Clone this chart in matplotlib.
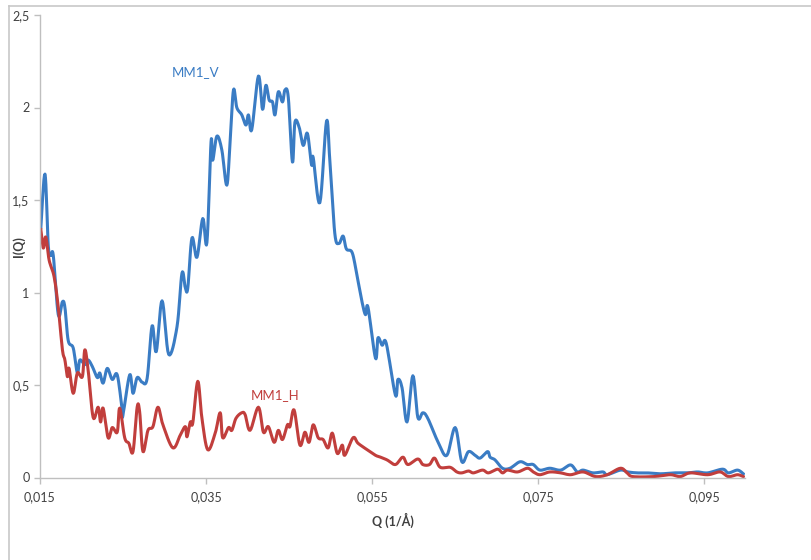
import numpy as np
import matplotlib
matplotlib.use("Agg")
import matplotlib.pyplot as plt
from matplotlib.lines import Line2D

# scattering intensity I(Q), vertical and horizontal sectors
q_v = [0.0151, 0.0156, 0.0160, 0.0163, 0.0166, 0.0172, 0.0177, 0.0180, 0.0184, 0.0190,
       0.0195, 0.0198, 0.0204, 0.0208, 0.0213, 0.0219, 0.0222, 0.0226, 0.0231, 0.0237,
       0.0243, 0.0249, 0.0250, 0.0258, 0.0262, 0.0267, 0.0273, 0.0279, 0.0285, 0.0290,
       0.0297, 0.0305, 0.0315, 0.0321, 0.0325, 0.0328, 0.0333, 0.0339, 0.0346, 0.0351,
       0.0356, 0.0358, 0.0363, 0.0369, 0.0375, 0.0379, 0.0383, 0.0387, 0.0393, 0.0398,
       0.0401, 0.0405, 0.0413, 0.0418, 0.0422, 0.0426, 0.0430, 0.0433, 0.0437, 0.0442,
       0.0445, 0.0449, 0.0454, 0.0457, 0.0462, 0.0467, 0.0472, 0.0477, 0.0479, 0.0487,
       0.0495, 0.0499, 0.0505, 0.0510, 0.0515, 0.0519, 0.0526, 0.0532, 0.0538, 0.0542,
       0.0545, 0.0554, 0.0557, 0.0562, 0.0567, 0.0578, 0.0581, 0.0586, 0.0592, 0.0599,
       0.0605, 0.0611, 0.0617, 0.0630, 0.0640, 0.0650, 0.0658, 0.0666, 0.0674, 0.0680,
       0.0689, 0.0692, 0.0698, 0.0707, 0.0716, 0.0728, 0.0737, 0.0744, 0.0752, 0.0764,
       0.0777, 0.0789, 0.0797, 0.0804, 0.0816, 0.0828, 0.0833, 0.0849, 0.0858, 0.0869,
       0.0881, 0.0897, 0.0913, 0.0930, 0.0942, 0.0954, 0.0972, 0.0979, 0.0990, 0.0997]
i_v = [1.35, 1.64, 1.25, 1.20, 1.20, 0.88, 0.95, 0.92, 0.74, 0.70,
       0.565, 0.635, 0.61, 0.635, 0.60, 0.54, 0.565, 0.51, 0.59, 0.53,
       0.555, 0.365, 0.34, 0.555, 0.455, 0.54, 0.515, 0.535, 0.82, 0.68,
       0.955, 0.665, 0.815, 1.105, 1.025, 1.025, 1.295, 1.19, 1.40, 1.27,
       1.815, 1.715, 1.845, 1.77, 1.58, 1.825, 2.095, 2.00, 1.96, 1.905,
       1.96, 1.88, 2.17, 1.99, 2.12, 2.04, 2.03, 1.96, 2.085, 2.03,
       2.095, 2.055, 1.705, 1.92, 1.895, 1.795, 1.86, 1.69, 1.73, 1.485,
       1.925, 1.715, 1.32, 1.265, 1.305, 1.235, 1.215, 1.085, 0.945, 0.88,
       0.92, 0.645, 0.755, 0.715, 0.725, 0.445, 0.53, 0.485, 0.30, 0.55,
       0.325, 0.35, 0.32, 0.185, 0.12, 0.27, 0.085, 0.14, 0.12, 0.105,
       0.14, 0.11, 0.095, 0.05, 0.05, 0.085, 0.07, 0.07, 0.04, 0.05,
       0.04, 0.068, 0.03, 0.04, 0.025, 0.03, 0.015, 0.04, 0.03, 0.025,
       0.025, 0.02, 0.025, 0.025, 0.03, 0.025, 0.045, 0.025, 0.04, 0.02]

q_h = [0.0151, 0.0154, 0.0157, 0.0161, 0.0167, 0.0172, 0.0177, 0.0180, 0.0183, 0.0185,
       0.0190, 0.0195, 0.0201, 0.0204, 0.0208, 0.0214, 0.0220, 0.0223, 0.0226, 0.0232,
       0.0237, 0.0243, 0.0246, 0.0252, 0.0257, 0.0262, 0.0267, 0.0270, 0.0274, 0.0280,
       0.0286, 0.0292, 0.0298, 0.0310, 0.0319, 0.0325, 0.0327, 0.0331, 0.0334, 0.0340,
       0.0345, 0.0352, 0.0361, 0.0367, 0.0370, 0.0377, 0.0381, 0.0386, 0.0393, 0.0397,
       0.0403, 0.0413, 0.0419, 0.0425, 0.0432, 0.0437, 0.0442, 0.0448, 0.0451, 0.0456,
       0.0463, 0.0469, 0.0474, 0.0479, 0.0485, 0.0491, 0.0497, 0.0502, 0.0508, 0.0514,
       0.0517, 0.0527, 0.0533, 0.0544, 0.0554, 0.0560, 0.0568, 0.0578, 0.0587, 0.0593,
       0.0605, 0.0611, 0.0619, 0.0625, 0.0632, 0.0644, 0.0652, 0.0658, 0.0666, 0.0672,
       0.0683, 0.0690, 0.0701, 0.0707, 0.0713, 0.0725, 0.0737, 0.0744, 0.0752, 0.0764,
       0.0777, 0.0789, 0.0804, 0.0819, 0.0833, 0.0849, 0.0857, 0.0864, 0.0889, 0.0909,
       0.0921, 0.0933, 0.0954, 0.0969, 0.0979, 0.0990, 0.0997]
i_h = [1.34, 1.24, 1.30, 1.175, 1.085, 0.92, 0.69, 0.635, 0.545, 0.59,
       0.455, 0.565, 0.545, 0.69, 0.58, 0.325, 0.38, 0.30, 0.375, 0.215,
       0.27, 0.245, 0.375, 0.215, 0.185, 0.14, 0.38, 0.355, 0.14, 0.255,
       0.275, 0.38, 0.285, 0.16, 0.23, 0.275, 0.22, 0.30, 0.295, 0.52,
       0.32, 0.15, 0.24, 0.35, 0.215, 0.27, 0.255, 0.32, 0.35, 0.34,
       0.255, 0.38, 0.245, 0.275, 0.19, 0.255, 0.205, 0.285, 0.275, 0.365,
       0.175, 0.245, 0.19, 0.285, 0.215, 0.205, 0.16, 0.24, 0.13, 0.175,
       0.12, 0.215, 0.185, 0.15, 0.12, 0.11, 0.095, 0.07, 0.11, 0.07,
       0.10, 0.07, 0.07, 0.105, 0.055, 0.055, 0.03, 0.025, 0.035, 0.025,
       0.04, 0.025, 0.045, 0.025, 0.04, 0.03, 0.05, 0.03, 0.015, 0.03,
       0.025, 0.015, 0.03, 0.005, 0.015, 0.05, 0.025, 0.005, 0.005, 0.015,
       0.005, 0.025, 0.015, 0.03, 0.005, 0.015, 0.005]

x_ticks = [0.015, 0.035, 0.055, 0.075, 0.095]
y_ticks = [0, 0.5, 1, 1.5, 2, 2.5]

blue = "#3A7CC4"
red = "#C13E3C"
grey = "#BFBFBF"


def smooth(x, y, n=8):
    # Catmull-Rom curve through the points, like a "smoothed line" chart
    x = np.asarray(x, float)
    y = np.asarray(y, float)
    px = np.concatenate([[x[0]], x, [x[-1]]])
    py = np.concatenate([[y[0]], y, [y[-1]]])
    t = np.linspace(0, 1, n, endpoint=False)
    xs, ys = [], []
    for k in range(1, len(px) - 2):
        for p, out in ((px, xs), (py, ys)):
            p0, p1, p2, p3 = p[k - 1], p[k], p[k + 1], p[k + 2]
            out.extend(0.5 * (2 * p1 + (-p0 + p2) * t
                              + (2 * p0 - 5 * p1 + 4 * p2 - p3) * t ** 2
                              + (-p0 + 3 * p1 - 3 * p2 + p3) * t ** 3))
    xs.append(x[-1])
    ys.append(y[-1])
    return np.array(xs), np.array(ys)


plt.rcParams["font.family"] = ["Lato", "DejaVu Sans"]

fig = plt.figure(figsize=(8.12, 5.60), dpi=100)
ax = fig.add_axes([40 / 812, 82.5 / 560, 705 / 812, 462.5 / 560])

ax.plot(*smooth(q_v, i_v), color=blue, lw=2.2, solid_joinstyle="round")
ax.plot(*smooth(q_h, i_h), color=red, lw=2.2, solid_joinstyle="round")

ax.text(0.0337, 2.19, "MM1_V", color=blue, fontsize=9.5, ha="center", va="center")
ax.text(0.0433, 0.446, "MM1_H", color=red, fontsize=9.5, ha="center", va="center")

ax.set_xlim(0.015, 0.0999)
ax.set_ylim(0, 2.5)
ax.set_xticks(x_ticks)
ax.set_xticklabels([f"{v:g}".replace(".", ",") for v in x_ticks])
ax.set_yticks(y_ticks)
ax.set_yticklabels([f"{v:g}".replace(".", ",") for v in y_ticks])

for side in ["top", "right"]:
    ax.spines[side].set_visible(False)
for side in ["left", "bottom"]:
    ax.spines[side].set_color(grey)
    ax.spines[side].set_linewidth(1.0)
ax.tick_params(colors=grey, labelcolor="#404040", labelsize=9, length=4, width=1, direction="out")
ax.tick_params(axis="x", pad=6)

ax.set_xlabel("Q (1/Å)", fontsize=9, fontweight="bold", color="#404040", labelpad=7)
ax.set_ylabel("I(Q)", fontsize=9, fontweight="bold", color="#404040")
ax.yaxis.set_label_coords(-0.021, 0.5)

# outer chart frame (top and left edges)
fig.add_artist(Line2D([9 / 812, 1], [1 - 6 / 560, 1 - 6 / 560], color="#C8C8C8", lw=1.2))
fig.add_artist(Line2D([9 / 812, 9 / 812], [0, 1 - 6 / 560], color="#C8C8C8", lw=1.2))

fig.savefig("out.png", dpi=100)
